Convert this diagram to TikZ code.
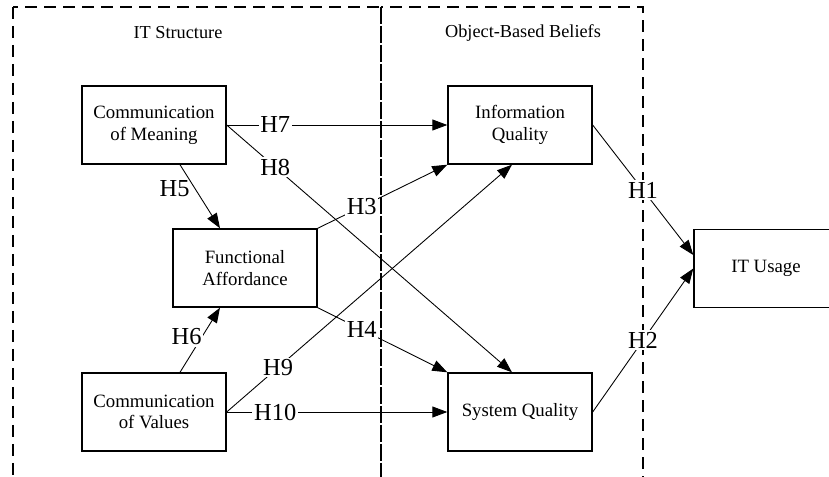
\documentclass[tikz,border=0pt]{standalone}
\usepackage{fontspec}
\setmainfont{Liberation Serif}
\usetikzlibrary{arrows.meta}

\begin{document}
\begin{tikzpicture}[x=0.02cm,y=-0.02cm,
  construct/.style={draw,line width=0.8pt,minimum width=2.88cm,minimum height=1.56cm,align=center,font=\fontsize{10.7}{12.3}\selectfont,inner sep=0pt},
  region/.style={draw,dash pattern=on 0.24cm off 0.14cm,line width=0.8pt},
  heading/.style={font=\fontsize{10.4}{12}\selectfont},
  hyp/.style={font=\fontsize{13.9}{15}\selectfont,fill=white,inner sep=1pt},
  arrow/.style={-{Triangle[length=0.3cm,width=0.22cm]},line width=0.5pt}
]
\useasboundingbox (0,0) rectangle (829,477);

% regions
\draw[region] (13,7) rectangle (381,477.3);
\draw[region] (381,7) rectangle (643,477.3);
\node[heading] (structure) at (178,33) {IT Structure};
\node[heading] (beliefs) at (523,33) {Object-Based Beliefs};

% constructs
\node[construct] (meaning) at (154,125) {Communication\\of Meaning};
\node[construct] (affordance) at (245,268) {Functional\\Affordance};
\node[construct] (values) at (154,412) {Communication\\of Values};
\node[construct] (info) at (520,125) {Information\\Quality};
\node[construct] (system) at (520,412) {System Quality};
\node[construct] (usage) at (766,268.5) {IT Usage};

% hypotheses
\draw[arrow] (meaning.east) -- node[hyp,pos=0.22] {H7} (info.west);
\draw[arrow] (meaning.east) -- node[hyp,pos=0.17] {H8} ([xshift=-0.16cm]system.north);
\draw[arrow] ([xshift=0.52cm]meaning.south) -- node[hyp,fill=none,pos=0.38,left=2pt] {H5} ([xshift=-0.5cm]affordance.north);
\draw[arrow] ([xshift=0.52cm]values.north) -- node[hyp,pos=0.55,left=-1pt] {H6} ([xshift=-0.5cm]affordance.south);
\draw[arrow] (affordance.north east) -- node[hyp,pos=0.34] {H3} (info.south west);
\draw[arrow] (affordance.south east) -- node[hyp,pos=0.34] {H4} (system.north west);
\draw[arrow] (values.east) -- node[hyp,pos=0.18] {H9} ([xshift=-0.16cm]info.south);
\draw[arrow] (values.east) -- node[hyp,pos=0.22] {H10} (system.west);
\draw[arrow] (info.east) -- node[hyp,pos=0.5] {H1} ([yshift=0.27cm]usage.west);
\draw[arrow] (system.east) -- node[hyp,pos=0.5] {H2} (usage.west);
\end{tikzpicture}
\end{document}
